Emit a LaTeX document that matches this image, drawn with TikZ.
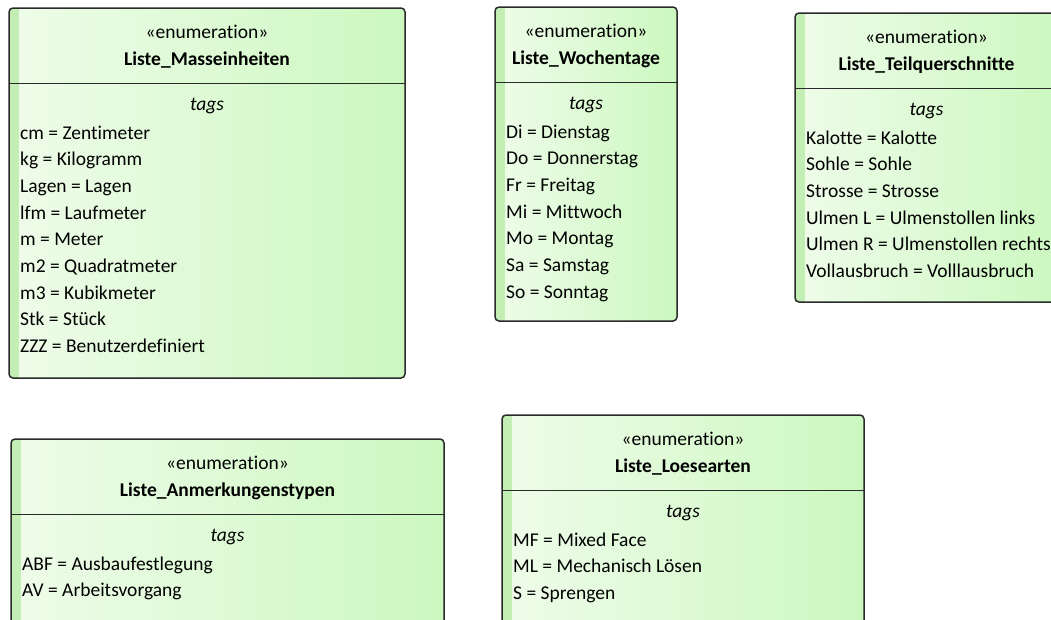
\documentclass[tikz,border=0pt]{standalone}
\usepackage{fontspec}
\setmainfont{Carlito}[RawFeature={-liga}]
\definecolor{framecol}{HTML}{2A2A2A}
\definecolor{fillleft}{HTML}{EFFCEA}
\definecolor{fillright}{HTML}{CCF8C0}
\definecolor{stripecol}{HTML}{C4EFB4}
\tikzset{
  boxframe/.style={draw=framecol, line width=1.5pt, rounded corners=4pt},
  sepline/.style={draw=framecol, line width=1.3pt},
  stereotxt/.style={anchor=base, inner sep=0pt, font=\fontsize{19.5}{22}\selectfont},
  nametxt/.style={anchor=base, inner sep=0pt, font=\fontsize{19.5}{22}\selectfont\bfseries},
  tagtxt/.style={anchor=base, inner sep=0pt, font=\fontsize{19.5}{22}\selectfont\itshape},
  itemtxt/.style={anchor=base west, inner sep=0pt, font=\fontsize{19.5}{22}\selectfont},
}
% #1 id, #2 left, #3 top, #4 right, #5 bottom, #6 name, #7 literals
\newcommand\enumbox[7]{%
  \begin{scope}
    \clip[rounded corners=4pt] ({#2},{-#3}) rectangle ({#4},{-#5});
    \shade[left color=fillleft, right color=fillright] ({#2},{-#3}) rectangle ({#4},{-#5});
    \fill[stripecol] ({#2},{-#3}) rectangle ({#2+10},{-#5});
  \end{scope}
  \draw[boxframe] ({#2},{-#3}) rectangle ({#4},{-#5});
  \draw[sepline] ({#2},{-#3-75.5}) -- ({#4},{-#3-75.5});
  \node[stereotxt] (#1-st) at ({(#2+#4)/2},{-#3-30}) {«enumeration»};
  \node[nametxt] (#1-nm) at ({(#2+#4)/2},{-#3-57.5}) {#6};
  \node[tagtxt] (#1-tg) at ({(#2+#4)/2},{-#3-102.5}) {tags};
  \foreach \lit [count=\k] in {#7}
    \node[itemtxt] (#1-lit\k) at ({#2+11},{-#3-131-(\k-1)*26.7}) {\lit};
}
\begin{document}
\begin{tikzpicture}[x=1pt, y=1pt]
  \clip (0,0) rectangle (1051,-619);
  \enumbox{mass}{9}{8}{405}{378}{Liste\_Masseinheiten}%
    {cm = Zentimeter, kg = Kilogramm, Lagen = Lagen, lfm = Laufmeter, m = Meter,
     m2 = Quadratmeter, m3 = Kubikmeter, Stk = Stück, ZZZ = Benutzerdefiniert}
  \enumbox{woche}{495}{7}{677}{321}{Liste\_Wochentage}%
    {Di = Dienstag, Do = Donnerstag, Fr = Freitag, Mi = Mittwoch, Mo = Montag,
     Sa = Samstag, So = Sonntag}
  \enumbox{teil}{795}{13}{1058}{302}{Liste\_Teilquerschnitte}%
    {Kalotte = Kalotte, Sohle = Sohle, Strosse = Strosse,
     Ulmen L = Ulmenstollen links, Ulmen R = Ulmenstollen rechts,
     Vollausbruch = Volllausbruch}
  \enumbox{anm}{11}{439}{444}{660}{Liste\_Anmerkungenstypen}%
    {ABF = Ausbaufestlegung, AV = Arbeitsvorgang}
  \enumbox{loes}{502}{415}{864}{660}{Liste\_Loesearten}%
    {MF = Mixed Face, ML = Mechanisch Lösen, S = Sprengen}
\end{tikzpicture}
\end{document}
